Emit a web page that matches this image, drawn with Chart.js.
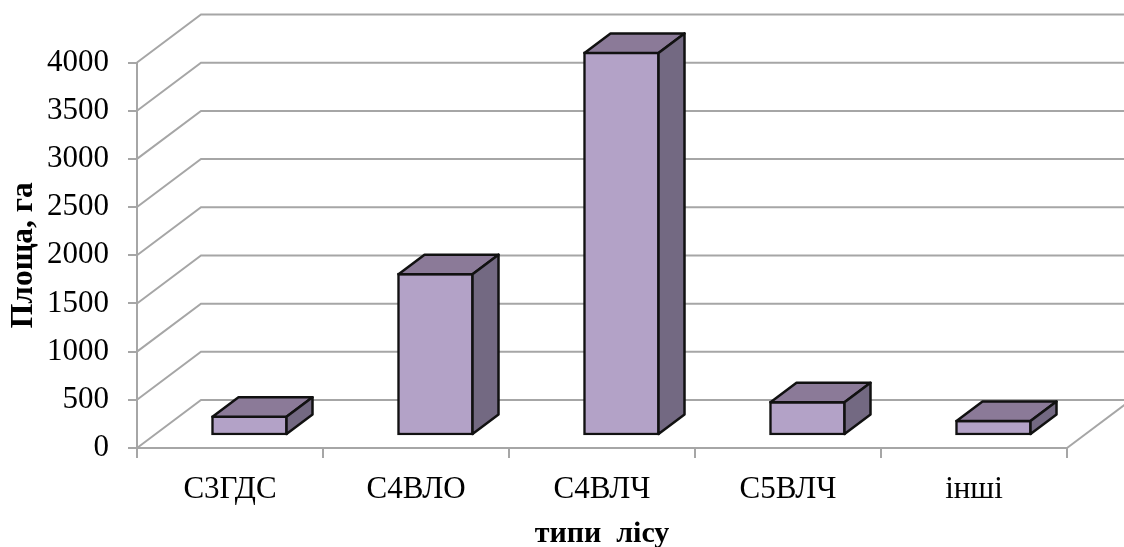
<!DOCTYPE html>
<html>
<head>
<meta charset="utf-8">
<title>Типи лісу</title>
<script src="https://cdn.jsdelivr.net/npm/chart.js@4"></script>
<style>
  html, body { margin: 0; padding: 0; background: #fff; }
  canvas { display: block; }
</style>
</head>
<body>
<canvas id="chart" width="1124" height="547"></canvas>
<script>
const categories = ['С3ГДС', 'С4ВЛО', 'С4ВЛЧ', 'С5ВЛЧ', 'інші'];
const areas = [210, 1690, 3985, 360, 165];
const yTicks = [0, 500, 1000, 1500, 2000, 2500, 3000, 3500, 4000];

const FONT = '"Liberation Serif", "Times New Roman", serif';
const GRID = '#a6a6a6';
const WALL = { dx: 64, dy: -48 };       // depth of the back wall
const SHIFT = { dx: 19.5, dy: -12 };    // bars stand inside the floor
const DEPTH = { dx: 26, dy: -19.5 };    // depth of one bar

// back wall, side wall and floor
const wallPlugin = {
  id: 'wall',
  beforeDatasetsDraw(chart) {
    const { ctx, chartArea, scales } = chart;
    ctx.save();
    ctx.strokeStyle = GRID;
    ctx.lineWidth = 2;
    yTicks.forEach(v => {
      const y = scales.y.getPixelForValue(v);
      ctx.beginPath();
      ctx.moveTo(chartArea.left, y);
      ctx.lineTo(chartArea.left + WALL.dx, y + WALL.dy);
      ctx.lineTo(chart.width, y + WALL.dy);
      ctx.stroke();
    });
    ctx.beginPath();
    ctx.moveTo(chartArea.right, chartArea.bottom);
    ctx.lineTo(chartArea.right + WALL.dx, chartArea.bottom + WALL.dy);
    ctx.stroke();
    ctx.restore();

    // the library draws the front faces, moved into the floor
    ctx.save();
    ctx.translate(SHIFT.dx, SHIFT.dy);
  },
  afterDatasetsDraw(chart) {
    const { ctx } = chart;
    chart.getDatasetMeta(0).data.forEach(bar => {
      const l = bar.x - bar.width / 2 + 1;
      const r = bar.x + bar.width / 2 - 1;
      const t = bar.y + 1;
      const b = bar.base - 1;
      ctx.strokeStyle = '#111';
      ctx.lineWidth = 2.5;
      ctx.lineJoin = 'round';

      ctx.fillStyle = '#8b7a98';
      ctx.beginPath();
      ctx.moveTo(l, t);
      ctx.lineTo(l + DEPTH.dx, t + DEPTH.dy);
      ctx.lineTo(r + DEPTH.dx, t + DEPTH.dy);
      ctx.lineTo(r, t);
      ctx.closePath();
      ctx.fill();
      ctx.stroke();

      ctx.fillStyle = '#736982';
      ctx.beginPath();
      ctx.moveTo(r, t);
      ctx.lineTo(r + DEPTH.dx, t + DEPTH.dy);
      ctx.lineTo(r + DEPTH.dx, b + DEPTH.dy);
      ctx.lineTo(r, b);
      ctx.closePath();
      ctx.fill();
      ctx.stroke();
    });
    ctx.restore();
  }
};

new Chart(document.getElementById('chart'), {
  type: 'bar',
  data: {
    labels: categories,
    datasets: [{
      data: areas,
      backgroundColor: '#b3a2c7',
      borderColor: '#111',
      borderWidth: 2.5,
      borderSkipped: false,
      barThickness: 76,
      clip: false
    }]
  },
  options: {
    responsive: false,
    animation: false,
    layout: { padding: { top: 62.5, right: 57, left: 0, bottom: 0 } },
    plugins: { legend: { display: false }, tooltip: { enabled: false } },
    scales: {
      x: {
        afterFit(scale) { scale.height = 99; },
        title: {
          display: true,
          text: 'типи  лісу',
          color: '#000',
          font: { family: FONT, size: 30, weight: 'bold' },
          padding: { top: 0, bottom: -5 }
        },
        grid: { drawOnChartArea: false, color: GRID, lineWidth: 2, tickLength: 10 },
        border: { color: GRID, width: 2 },
        ticks: { color: '#000', font: { family: FONT, size: 31 }, padding: 13, maxRotation: 0 }
      },
      y: {
        min: 0,
        max: 4000,
        afterFit(scale) { scale.width = 137; },
        title: {
          display: true,
          text: 'Площа, га',
          color: '#000',
          font: { family: FONT, size: 31.5, weight: 'bold' },
          padding: { top: 5, bottom: 0 }
        },
        grid: { drawOnChartArea: false, color: GRID, lineWidth: 2, tickLength: 9 },
        border: { color: GRID, width: 2 },
        ticks: {
          color: '#000',
          stepSize: 500,
          font: { family: FONT, size: 31 },
          padding: 19,
          callback: v => String(v)
        }
      }
    }
  },
  plugins: [wallPlugin]
});
</script>
</body>
</html>
